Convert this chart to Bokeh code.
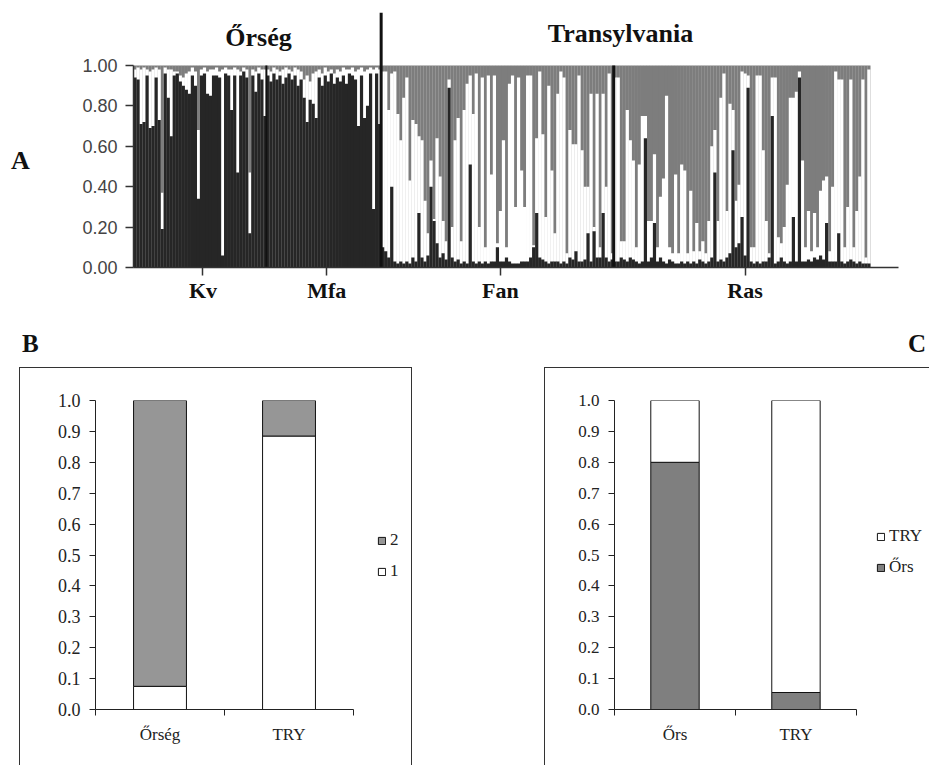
from bokeh.plotting import figure
from bokeh.models import (Range1d, LinearAxis, FixedTicker, NumeralTickFormatter, Label,
                          Legend, LegendItem, Spacer, ColumnDataSource, Div)
from bokeh.layouts import column, row
from bokeh.embed import file_html
from bokeh.resources import INLINE

# ---------------- Panel A data (STRUCTURE-like membership, K=3) ----------------
pop_names = ["Kv", "Mfa", "Fan", "Ras"]
region_names = ["Őrség", "Transylvania"]
panel_letters = ["A", "B", "C"]

# dark cluster share (bottom) and cumulative dark+white share (gray above)
Kv_dark = [0.94, 0.93, 0.71, 0.72, 0.95, 0.69, 0.70, 0.94, 0.73, 0.19,
           0.96, 0.84, 0.65, 0.95, 0.96, 0.92, 0.90, 0.88, 0.86, 0.95,
           0.90, 0.34, 0.95, 0.96, 0.86, 0.85, 0.95, 0.95, 0.94, 0.06,
           0.96, 0.95, 0.78, 0.95, 0.47, 0.95, 0.97, 0.94, 0.17, 0.95,
           0.87, 0.96, 0.93, 0.75]
Kv_top = [0.98, 0.99, 0.98, 0.99, 0.98, 0.97, 0.98, 0.99, 0.98, 0.37,
          0.99, 0.98, 0.98, 0.97, 0.97, 0.95, 0.94, 0.96, 0.97, 0.99,
          0.97, 0.68, 0.98, 0.99, 0.97, 0.98, 0.98, 0.99, 0.97, 0.98,
          0.99, 0.98, 0.98, 0.99, 0.98, 0.97, 0.99, 0.98, 0.47, 0.98,
          0.97, 0.99, 0.98, 0.98]

Mfa_dark = [0.95, 0.92, 0.96, 0.93, 0.95, 0.91, 0.94, 0.96, 0.93, 0.95,
            0.90, 0.93, 0.84, 0.72, 0.83, 0.81, 0.74, 0.94, 0.90, 0.95,
            0.92, 0.96, 0.91, 0.94, 0.92, 0.95, 0.91, 0.96, 0.95, 0.93,
            0.70, 0.95, 0.74, 0.80, 0.96, 0.29, 0.96, 0.71]
Mfa_top = [0.98, 0.97, 0.99, 0.98, 0.97, 0.98, 0.99, 0.98, 0.97, 0.99,
           0.98, 0.97, 0.93, 0.95, 0.92, 0.96, 0.97, 0.98, 0.96, 0.99,
           0.97, 0.98, 0.96, 0.98, 0.97, 0.99, 0.98, 0.98, 0.99, 0.97,
           0.98, 0.99, 0.97, 0.98, 0.99, 0.98, 0.99, 0.98]

Fan_dark = [0.10, 0.08, 0.05, 0.40, 0.03, 0.02, 0.03, 0.02, 0.03, 0.02,
            0.05, 0.03, 0.27, 0.05, 0.03, 0.06, 0.40, 0.23, 0.12, 0.05,
            0.07, 0.04, 0.89, 0.05, 0.03, 0.04, 0.02, 0.03, 0.02, 0.51,
            0.03, 0.02, 0.03, 0.02, 0.03, 0.02, 0.03, 0.03, 0.10, 0.03,
            0.03, 0.05, 0.03, 0.02, 0.02, 0.02, 0.03, 0.03, 0.03, 0.05,
            0.10, 0.27, 0.05, 0.04, 0.03, 0.02, 0.03, 0.03, 0.03, 0.02,
            0.03, 0.02, 0.05, 0.04, 0.08, 0.03, 0.03, 0.04, 0.17, 0.03,
            0.18, 0.05, 0.05, 0.27, 0.05, 0.03, 0.04]
Fan_top = [0.97, 0.97, 0.78, 0.96, 0.97, 0.76, 0.63, 0.84, 0.94, 0.43,
           0.73, 0.71, 0.65, 0.63, 0.33, 0.17, 0.53, 0.24, 0.64, 0.45,
           0.23, 0.13, 0.93, 0.20, 0.63, 0.74, 0.13, 0.78, 0.91, 0.95,
           0.76, 0.96, 0.20, 0.94, 0.10, 0.95, 0.46, 0.95, 0.12, 0.28,
           0.63, 0.10, 0.91, 0.95, 0.30, 0.94, 0.48, 0.30, 0.95, 0.95,
           0.11, 0.64, 0.97, 0.66, 0.25, 0.90, 0.48, 0.17, 0.86, 0.97,
           0.94, 0.07, 0.68, 0.61, 0.61, 0.95, 0.58, 0.40, 0.40, 0.86,
           0.20, 0.86, 0.10, 0.86, 0.40, 0.96, 0.07]

Ras_dark = [0.03, 0.03, 0.05, 0.04, 0.03, 0.05, 0.04, 0.03, 0.02, 0.03,
            0.64, 0.03, 0.05, 0.22, 0.03, 0.05, 0.03, 0.02, 0.04, 0.03,
            0.02, 0.02, 0.03, 0.02, 0.03, 0.02, 0.03, 0.02, 0.04, 0.03,
            0.02, 0.03, 0.05, 0.47, 0.03, 0.04, 0.03, 0.05, 0.07, 0.58,
            0.10, 0.12, 0.25, 0.06, 0.89, 0.03, 0.02, 0.03, 0.02, 0.03,
            0.03, 0.05, 0.75, 0.02, 0.03, 0.05, 0.03, 0.02, 0.03, 0.25,
            0.03, 0.94, 0.03, 0.03, 0.04, 0.03, 0.05, 0.04, 0.06, 0.04,
            0.22, 0.03, 0.03, 0.03, 0.17, 0.03, 0.02, 0.03, 0.04, 0.03,
            0.02, 0.03, 0.02, 0.02, 0.02]
Ras_top = [0.94, 0.94, 0.13, 0.13, 0.78, 0.63, 0.53, 0.10, 0.51, 0.75,
           0.75, 0.23, 0.23, 0.56, 0.10, 0.35, 0.44, 0.85, 0.10, 0.07,
           0.46, 0.07, 0.51, 0.48, 0.07, 0.38, 0.08, 0.22, 0.08, 0.13,
           0.07, 0.23, 0.60, 0.68, 0.23, 0.84, 0.96, 0.28, 0.81, 0.78,
           0.33, 0.41, 0.97, 0.96, 0.95, 0.10, 0.10, 0.95, 0.95, 0.58,
           0.23, 0.07, 0.94, 0.94, 0.15, 0.12, 0.20, 0.41, 0.84, 0.84,
           0.87, 0.97, 0.53, 0.10, 0.28, 0.08, 0.27, 0.10, 0.38, 0.43,
           0.45, 0.08, 0.40, 0.97, 0.93, 0.93, 0.10, 0.30, 0.93, 0.10,
           0.28, 0.45, 0.93, 0.05, 0.98]

# ---------------- Panel B / C data ----------------
B_groups = ["Őrség", "TRY"]
B_cluster1 = [0.075, 0.885]
B_cluster2 = [0.925, 0.115]
B_legend = ["2", "1"]

C_groups = ["Őrs", "TRY"]
C_ors = [0.80, 0.055]
C_try = [0.20, 0.945]
C_legend = ["TRY", "Őrs"]

A_yticks = [0.0, 0.2, 0.4, 0.6, 0.8, 1.0]
BC_yticks = [0.0, 0.1, 0.2, 0.3, 0.4, 0.5, 0.6, 0.7, 0.8, 0.9, 1.0]

DARK = "#262626"
GRAY_A = "#7d7d7d"
GRAY_B = "#969696"
GRAY_C = "#7f7f7f"
SERIF = "Liberation Serif"
SANS = "Liberation Sans"

# ---------------- Panel A ----------------
dark_all = Kv_dark + Mfa_dark + Fan_dark + Ras_dark
top_all = Kv_top + Mfa_top + Fan_top + Ras_top
n = len(dark_all)
src = ColumnDataSource(dict(x=[i + 0.5 for i in range(n)], dark=dark_all, top=top_all))

counts = [len(Kv_dark), len(Mfa_dark), len(Fan_dark), len(Ras_dark)]
bounds_pop = [0]
for c in counts:
    bounds_pop.append(bounds_pop[-1] + c)
centers = [(bounds_pop[i] + bounds_pop[i + 1]) / 2 + 1 for i in range(4)]

pA = figure(width=889, height=316, x_range=Range1d(0, 253.3), y_range=Range1d(0, 1.262),
            output_backend="svg", toolbar_location=None, title=None,
            x_axis_location=None, y_axis_location=None,
            min_border_left=93, min_border_right=31, min_border_top=12, min_border_bottom=49)
pA.outline_line_color = None
pA.grid.visible = False

pA.vbar(x="x", width=1.06, bottom=0, top=1, source=src, fill_color=GRAY_A, line_color=None)
pA.vbar(x="x", width=1.06, bottom=0, top="top", source=src, fill_color="white", line_color=None)
pA.vbar(x="x", width=1.06, bottom=0, top="dark", source=src, fill_color=DARK, line_color=None)

# population dividers
pA.segment(x0=bounds_pop[1:4], y0=[0, 0, 0], x1=bounds_pop[1:4], y1=[1.0, 1.262, 1.0],
           line_color="#111111", line_width=[2, 3, 3])

yax = LinearAxis(bounds=(0, 1), ticker=FixedTicker(ticks=A_yticks),
                 formatter=NumeralTickFormatter(format="0.00"))
yax.major_tick_out = 8
yax.major_tick_in = 0
yax.major_label_standoff = 8
yax.major_label_text_font = SANS
yax.major_label_text_font_size = "18px"
yax.major_label_text_color = "#444444"
yax.axis_line_color = "#333333"
yax.axis_line_width = 1.5
yax.major_tick_line_color = "#333333"
yax.major_tick_line_width = 1.5
pA.add_layout(yax, "left")

xax = LinearAxis(ticker=FixedTicker(ticks=centers),
                 major_label_overrides={c: name for c, name in zip(centers, pop_names)})
xax.major_tick_out = 8
xax.major_tick_in = 0
xax.major_label_standoff = 2
xax.major_label_text_font = SERIF
xax.major_label_text_font_style = "bold"
xax.major_label_text_font_size = "22px"
xax.major_label_text_color = "#111111"
xax.axis_line_color = "#333333"
xax.axis_line_width = 1.5
xax.major_tick_line_color = "#333333"
xax.major_tick_line_width = 1.5
pA.add_layout(xax, "below")

for cx, cy, txt in [(125, 230, region_names[0]), (487, 234, region_names[1])]:
    pA.add_layout(Label(x=cx, y=cy, x_units="screen", y_units="screen", text=txt,
                        text_font=SERIF, text_font_style="bold", text_font_size="26px",
                        text_align="center", text_baseline="alphabetic", text_color="#111111"))

def letter_div(text, width, height, pad_top, pad_left, size):
    html = ('<div style="padding-top:%dpx;padding-left:%dpx;font-family:\'Liberation Serif\';'
            'font-weight:bold;font-size:%s;color:#111111;line-height:normal;">%s</div>'
            % (pad_top, pad_left, size, text))
    return Div(text=html, width=width, height=height, margin=0)

divA = letter_div(panel_letters[0], 40, 316, 146, 11, "26px")
divB = letter_div(panel_letters[1], 460, 51, 14, 22, "25px")
divC = letter_div(panel_letters[2], 469, 51, 14, 448, "25px")

# ---------------- Panel B / C helper ----------------
def bar_panel(width, border_left, border_top, border_bottom, x_end,
              lower, upper, lower_color, upper_color, groups, items, legend_loc, bar_w,
              ytick_size, ytick_standoff):
    p = figure(width=width, height=398, x_range=Range1d(0, x_end), y_range=Range1d(0, 1),
               output_backend="svg", toolbar_location=None, title=None,
               x_axis_location=None, y_axis_location=None,
               min_border_left=border_left, min_border_right=0,
               min_border_top=border_top, min_border_bottom=border_bottom)
    p.outline_line_color = None
    p.grid.visible = False
    xs = [0.5, 1.5]
    tops = [a + b for a, b in zip(lower, upper)]
    r_low = p.vbar(x=xs, width=bar_w, bottom=0, top=lower, fill_color=lower_color,
                   line_color="#111111", line_width=1)
    r_up = p.vbar(x=xs, width=bar_w, bottom=lower, top=tops, fill_color=upper_color,
                  line_color="#111111", line_width=1)
    ya = LinearAxis(ticker=FixedTicker(ticks=BC_yticks), formatter=NumeralTickFormatter(format="0.0"))
    ya.major_tick_out = 6
    ya.major_tick_in = 0
    ya.major_label_standoff = ytick_standoff
    ya.major_label_text_font = SERIF
    ya.major_label_text_font_size = ytick_size
    ya.major_label_text_color = "#222222"
    ya.axis_line_color = "#222222"
    ya.major_tick_line_color = "#222222"
    p.add_layout(ya, "left")
    xa = LinearAxis(bounds=(0, 2), ticker=FixedTicker(ticks=xs, minor_ticks=[0, 1, 2]),
                    major_label_overrides={0.5: groups[0], 1.5: groups[1]})
    xa.major_tick_out = 0
    xa.major_tick_in = 0
    xa.minor_tick_out = 6
    xa.minor_tick_in = 0
    xa.minor_tick_line_color = "#222222"
    xa.major_label_standoff = 9
    xa.major_label_text_font = SERIF
    xa.major_label_text_font_size = "17px"
    xa.major_label_text_color = "#222222"
    xa.axis_line_color = "#222222"
    p.add_layout(xa, "below")
    rend = {"upper": r_up, "lower": r_low}
    leg = Legend(items=[LegendItem(label=lab, renderers=[rend[key]]) for lab, key in items],
                 location=legend_loc, glyph_width=9, glyph_height=9, label_height=20,
                 spacing=11, padding=0, margin=0, label_standoff=4,
                 border_line_color=None, background_fill_alpha=0,
                 label_text_font=SERIF, label_text_font_size="17px", label_text_color="#222222")
    p.add_layout(leg)
    return p

pB = bar_panel(393, 75, 32, 57, 2.465, B_cluster1, B_cluster2, "white", GRAY_B, B_groups,
               [(B_legend[0], "upper"), (B_legend[1], "lower")], (282, 128), 0.41, "18px", 9)
pB.styles = {"border-top": "1px solid #333333", "border-left": "1px solid #333333",
             "border-right": "1px solid #333333", "box-sizing": "border-box"}
pC = bar_panel(385, 69, 26, 52, 2.612, C_ors, C_try, GRAY_C, "white", C_groups,
               [(C_legend[0], "upper"), (C_legend[1], "lower")], (262, 132), 0.40, "17px", 9)
pC.styles = {"border-top": "1px solid #333333", "border-left": "1px solid #333333",
             "box-sizing": "border-box"}

layout = column(row(divA, pA),
                row(divB, divC),
                row(Spacer(width=19, height=398), pB, Spacer(width=132, height=398), pC))

open("out.html", "w").write(file_html(layout, INLINE))
